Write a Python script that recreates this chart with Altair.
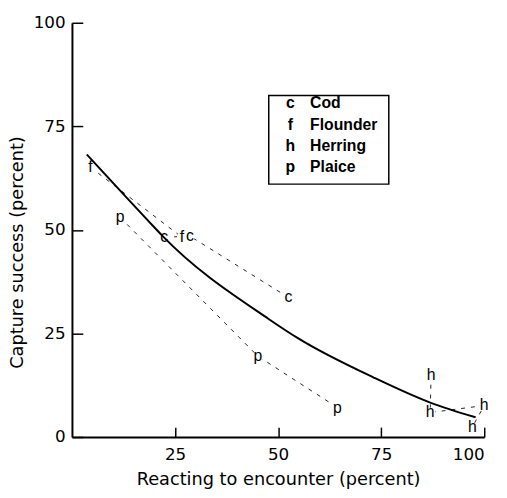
import altair as alt
import pandas as pd

# ---- data ----
cod_x = [22.4, 28.6, 52.5]
cod_y = [48.2, 48.5, 33.7]
flounder_x = [4.5, 26.7]
flounder_y = [65.1, 48.2]
herring_x = [87.1, 86.9, 100.0, 97.1]
herring_y = [15.0, 5.9, 7.6, 2.4]
plaice_x = [11.7, 45.1, 64.4]
plaice_y = [53.0, 19.5, 7.1]

fit_x = [3.6, 18.4, 22.0, 47.7, 54.9, 73.3, 86.9, 97.9]
fit_y = [68.2, 52.3, 48.5, 28.5, 23.8, 14.3, 8.3, 4.75]

legend_codes = ["c", "f", "h", "p"]
legend_names = ["Cod", "Flounder", "Herring", "Plaice"]

x_ticks = [25, 50, 75, 100]
y_ticks = [0, 25, 50, 75, 100]

FONT = "Liberation Sans"
AXFONT = "DejaVu Sans"
W, H = 419, 421

rows = []
for code, xs_, ys_ in [("c", cod_x, cod_y), ("f", flounder_x, flounder_y),
                       ("h", herring_x, herring_y), ("p", plaice_x, plaice_y)]:
    for i, (a, b) in enumerate(zip(xs_, ys_)):
        rows.append({"species": code, "order": i, "x": a, "y": b})
pts = pd.DataFrame(rows)
fit = pd.DataFrame({"x": fit_x, "y": fit_y})
leg = pd.DataFrame({"codes": ["\n".join(legend_codes)], "names": ["\n".join(legend_names)]})
xt = pd.DataFrame({"tx": x_ticks})
yt = pd.DataFrame({"ty": y_ticks})

xs = alt.Scale(domain=[0, 100], nice=False)
ys = alt.Scale(domain=[0, 100], nice=False)

X = alt.X("x:Q", scale=xs, axis=alt.Axis(values=x_ticks, title="Reacting to encounter (percent)",
                                          labelPadding=10, titlePadding=8))
Y = alt.Y("y:Q", scale=ys, axis=alt.Axis(values=y_ticks, title="Capture success (percent)",
                                          labelPadding=7, titleX=-55, titleY=233,
                                          titleBaseline="middle", titleAlign="center"))
Xn = alt.X("x:Q", scale=xs, axis=None)
Yn = alt.Y("y:Q", scale=ys, axis=None)

lines = alt.Chart(pts).mark_line(strokeDash=[4, 6], strokeWidth=1, color="#222").encode(
    x=X, y=Y, detail="species:N", order="order:Q")

masks = alt.Chart(pts).mark_circle(color="white", opacity=1, size=110).encode(x=Xn, y=Yn)

letters = alt.Chart(pts).mark_text(font=FONT, fontSize=16, color="black",
                                   align="center", baseline="middle").encode(
    x=Xn, y=Yn, text="species:N")

curve = alt.Chart(fit).mark_line(color="black", strokeWidth=2, interpolate="monotone").encode(
    x=Xn, y=Yn)

# inward ticks: extra tick-only axes shifted into the plot
xtick_axis = alt.Chart(xt).mark_point(opacity=0).encode(
    x=alt.X("tx:Q", scale=xs, axis=alt.Axis(values=x_ticks, offset=-10, domain=False,
                                             labels=False, ticks=True, tickSize=10,
                                             tickWidth=1.5, tickColor="black", title=None,
                                             orient="bottom")))
ytick_axis = alt.Chart(yt).mark_point(opacity=0).encode(
    y=alt.Y("ty:Q", scale=ys, axis=alt.Axis(values=y_ticks, offset=-11, domain=False,
                                             labels=False, ticks=True, tickSize=11,
                                             tickWidth=1.5, tickColor="black", title=None,
                                             orient="left")))

box = alt.Chart(leg).mark_rect(
    fill="white", fillOpacity=0, stroke="black", strokeWidth=1.5).encode(
    x=alt.value(200), x2=alt.value(322), y=alt.value(74), y2=alt.value(164))

leg_codes = alt.Chart(leg).mark_text(font=FONT, fontSize=16, fontWeight="bold", lineBreak="\n",
                                     lineHeight=21.7, align="center", baseline="top",
                                     color="black").encode(
    x=alt.value(222), y=alt.value(74), text="codes:N")
leg_names = alt.Chart(leg).mark_text(font=FONT, fontSize=16, fontWeight="bold", lineBreak="\n",
                                     lineHeight=21.7, align="left", baseline="top",
                                     color="black").encode(
    x=alt.value(242), y=alt.value(74), text="names:N")

chart = alt.layer(lines, masks, letters, curve, xtick_axis, ytick_axis,
                  box, leg_codes, leg_names).resolve_axis(
    x="independent", y="independent").properties(
    width=W, height=H,
    autosize=alt.AutoSizeParams(type="none"),
    padding={"left": 65, "top": 11, "right": 15, "bottom": 58},
).configure_view(stroke=None).configure_axis(
    domainColor="black", domainWidth=2, tickSize=0, grid=False,
    labelFont=AXFONT, labelFontSize=17, labelColor="black",
    titleFont=AXFONT, titleFontSize=18, titleFontWeight="normal", titleColor="black",
)

chart.save("out.html", embed_options={"renderer": "svg", "actions": False})
